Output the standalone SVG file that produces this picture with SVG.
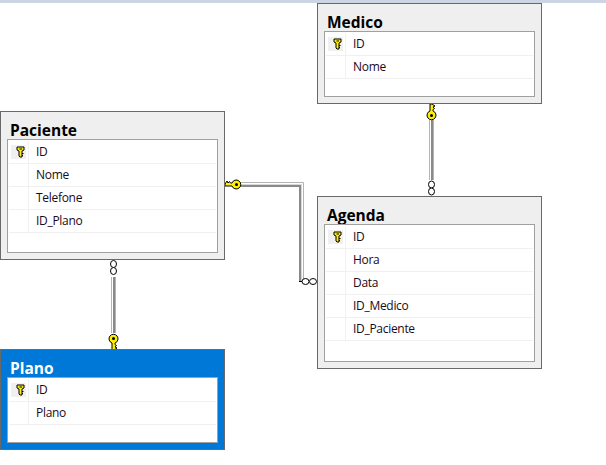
<svg xmlns="http://www.w3.org/2000/svg" width="606" height="465" viewBox="0 0 606 465">
<style>
.box{fill:#efefef;stroke:#696969;stroke-width:1}
.sel{fill:#0078d7;stroke:#696969;stroke-width:1}
.inner{fill:#fff;stroke:#a0a0a0;stroke-width:1}
.sep{stroke:#f0f0f0;stroke-width:1;fill:none}
.keybg{fill:#f0f0f0}
.t{font-family:"Open Sans","Noto Sans","Liberation Sans",sans-serif;font-size:15.500px;font-weight:700;fill:#000}
.tw{fill:#fff}
.f{font-family:"Open Sans","Noto Sans","Liberation Sans",sans-serif;font-size:12px;letter-spacing:-0.300px;fill:#1a0a20}
.ko{fill:#ffee00;stroke:#000;stroke-width:1}
.ring{fill:#fff;stroke:#000;stroke-width:1}
.a{fill:none;stroke:#b4b4b4;stroke-width:1}
.b{fill:none;stroke:#fff;stroke-width:1}
.c{fill:none;stroke:#8a8a8a;stroke-width:2}
</style>
<defs>
<g id="k"><path class="ko" d="M-3.500 -4.500H3.500V-1.500L1.500 -0.500V5.500H-0.500L-1.500 4.500V-0.500L-3.500 -1.500Z"/><path d="M-1 -3H1.500V-2H-1Z" fill="#000"/><path d="M1.500 1.500H3V2.500H1.500ZM1.500 3.500H2.500V4.500H1.500Z" fill="#000"/></g>
<g id="kb"><path class="ko" d="M-1.500 -11.500H0.500L3.500 -9.500L1.500 -8.500L3 -7L1.500 -6V-4.500A4.500 4.500 0 1 1 -1.500 -4.500Z"/><circle cx="0" cy="0" r="1.500" fill="#000"/></g>
</defs>
<rect x="0" y="0" width="606" height="3" fill="#ccd5e6"/>
<g id="connectors">
<path class="a" d="M429.500 120V180"/><path class="b" d="M430.500 120V180"/><path class="c" d="M432 120V180"/><path class="a" d="M433.500 120V180"/>
<path class="a" d="M111.500 277V333"/><path class="b" d="M112.500 277V333"/><path class="c" d="M114 277V333"/><path class="a" d="M115.500 277V333"/>
<path class="a" d="M240 182.500H303.500V281"/>
<path class="b" d="M240 183.500H302.500V281"/>
<path fill="none" stroke="#d8d8d8" stroke-width="1" d="M240 184.500H301.500V281"/>
<path class="c" d="M240 186H300V281"/>
<path fill="none" stroke="#000" stroke-width="1" d="M299 281.500H302"/>
<ellipse class="ring" cx="431.500" cy="184.500" rx="3" ry="3.500"/><ellipse class="ring" cx="431.500" cy="191.500" rx="3" ry="3.500"/>
<ellipse class="ring" cx="113.500" cy="264" rx="3" ry="3.500"/><ellipse class="ring" cx="113.500" cy="271" rx="3" ry="3.500"/>
<use href="#kb" transform="translate(431.500 115.500)"/>
<use href="#kb" transform="translate(113.500 338.500)scale(1 -1)"/>
<use href="#kb" transform="translate(236.500 184.500)rotate(-90)"/>
<ellipse class="ring" cx="305.500" cy="281.500" rx="3.500" ry="3"/><ellipse class="ring" cx="313" cy="281.500" rx="3.500" ry="3"/>
</g>
<g id="medico">
<rect class="box" x="317.500" y="3.500" width="224" height="100"/>
<text class="t" x="327" y="28">Medico</text>
<rect class="inner" x="324.500" y="31.500" width="210" height="65"/>
<path class="sep" d="M326 55.500H533M326 78.500H533M345.500 33V78"/>
<rect class="keybg" x="328" y="37" width="15" height="14"/>
<use href="#k" transform="translate(337.500 43.500)"/>
<text class="f" x="353" y="48">ID</text><text class="f" x="353" y="71">Nome</text>
</g>
<g id="paciente">
<rect class="box" x="0.500" y="111.500" width="224" height="148"/>
<text class="t" x="10" y="136">Paciente</text>
<rect class="inner" x="7.500" y="139.500" width="210" height="113"/>
<path class="sep" d="M9 163.500H216M9 186.500H216M9 209.500H216M9 232.500H216M28.500 141V232"/>
<rect class="keybg" x="11" y="145" width="15" height="14"/>
<use href="#k" transform="translate(20.500 151.500)"/>
<text class="f" x="36" y="156">ID</text><text class="f" x="36" y="179">Nome</text><text class="f" x="36" y="202">Telefone</text><text class="f" x="36" y="225">ID_Plano</text>
</g>
<g id="agenda">
<rect class="box" x="317.500" y="196.500" width="224" height="172"/>
<text class="t" x="327" y="221">Agenda</text>
<rect class="inner" x="324.500" y="224.500" width="210" height="137"/>
<path class="sep" d="M326 248.500H533M326 271.500H533M326 294.500H533M326 317.500H533M326 340.500H533M345.500 226V340"/>
<rect class="keybg" x="328" y="230" width="15" height="14"/>
<use href="#k" transform="translate(337.500 236.500)"/>
<text class="f" x="353" y="241">ID</text><text class="f" x="353" y="264">Hora</text><text class="f" x="353" y="287">Data</text><text class="f" x="353" y="310">ID_Medico</text><text class="f" x="353" y="333">ID_Paciente</text>
</g>
<g id="plano">
<rect class="sel" x="0.500" y="349.500" width="224" height="100"/>
<text class="t tw" x="10" y="374">Plano</text>
<rect class="inner" x="7.500" y="377.500" width="210" height="65"/>
<path class="sep" d="M9 401.500H216M9 424.500H216M28.500 379V424"/>
<rect class="keybg" x="11" y="383" width="15" height="14"/>
<use href="#k" transform="translate(20.500 389.500)"/>
<text class="f" x="36" y="394">ID</text><text class="f" x="36" y="417">Plano</text>
</g>
</svg>
